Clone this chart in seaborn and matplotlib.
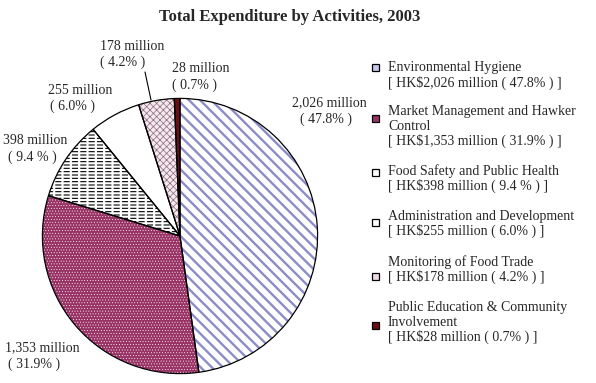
import matplotlib
matplotlib.use("Agg")
import matplotlib.pyplot as plt
import seaborn as sns

# ---- data ----
categories = [
    "Environmental Hygiene",
    "Market Management and Hawker\nControl",
    "Food Safety and Public Health",
    "Administration and Development",
    "Monitoring of Food Trade",
    "Public Education & Community\nInvolvement",
]
values = [2026, 1353, 398, 255, 178, 28]  # HK$ million
pct_labels = ["47.8%", "31.9%", "9.4 %", "6.0%", "4.2%", "0.7%"]
title = "Total Expenditure by Activities, 2003"

# ---- style ----
sns.set_theme(style="white")
plt.rcParams["font.family"] = ["Liberation Serif", "DejaVu Serif"]

face_colors = ["white", "#993366", "white", "white", "#f6e8ef", "#6b0f14"]
hatch_colors = ["#8c8cc8", "white", "black", "white", "#8a6a7a", "#6b0f14"]
hatches = ["\\\\\\", "......", "-----", "", "xxxxx", ""]
hatch_lw = [1.7, 0.3, 0.8, 1.0, 0.5, 1.0]
marker_faces = ["#c8c8e8", "#993366", "white", "white", "#f0d8e4", "#6b0f14"]

W, H = 596, 383
fig = plt.figure(figsize=(W / 100, H / 100), dpi=100)
fig.patch.set_facecolor("white")

cx, cy, r = 180, 236, 138
ax = fig.add_axes([(cx - r) / W, (H - cy - r) / H, 2 * r / W, 2 * r / H])
ax.axis("off")


def wedge_layer(idx, face, edge, hatch, lw):
    with plt.rc_context({"hatch.linewidth": lw}):
        wedges, _ = ax.pie(values, startangle=90, counterclock=False, radius=1,
                           colors=["none"] * len(values))
        for j, w in enumerate(wedges):
            if j != idx:
                w.remove()
            else:
                w.set_facecolor(face)
                w.set_edgecolor(edge)
                w.set_hatch(hatch)
                w.set_linewidth(0)


for i in range(len(values)):
    wedge_layer(i, face_colors[i], hatch_colors[i], hatches[i], hatch_lw[i])

# break food safety lines into dashes with a white vertical hatch
wedge_layer(2, "none", "white", "||", 1.6)

# outlines
ax.pie(values, startangle=90, counterclock=False, radius=1,
       wedgeprops=dict(facecolor="none", edgecolor="black", linewidth=0.9))
ax.set_xlim(-1.003, 1.003)
ax.set_ylim(-1.003, 1.003)
ax.set_aspect("equal")

# title
fig.text(290 / W, 1 - 17 / H, title, ha="center", va="center",
         fontsize=12, fontweight="bold")

# slice labels
FS = 10
label_pos = [(292, 103, 300), (5, 348, 8), (3, 141, 8), (48, 90, 50), (100, 46, 100), (172, 69, 172)]
for i, (x, y, x2) in enumerate(label_pos):
    fig.text(x / W, 1 - y / H, f"{values[i]:,} million", ha="left", va="center", fontsize=FS)
    fig.text(x2 / W, 1 - (y + 16) / H, f"( {pct_labels[i]} )", ha="left", va="center", fontsize=FS)

# leader line for 178 million
fig.add_artist(plt.Line2D([145 / W, 151 / W], [1 - 72 / H, 1 - 100 / H],
                          color="black", lw=0.8, transform=fig.transFigure))

# legend
leg_text_y = [68, 111, 171, 216, 262, 307]
leg_mark_y = [67, 118, 172, 222, 276, 325]
for i in range(len(values)):
    lines = categories[i].split("\n") + [f"[ HK${values[i]:,} million ( {pct_labels[i]} ) ]"]
    for k, ln in enumerate(lines):
        fig.text(388 / W, 1 - (leg_text_y[i] + 15 * k) / H, ln, ha="left", va="center",
                 fontsize=FS)
    s = 7
    rect = plt.Rectangle(((375 - s / 2) / W, 1 - (leg_mark_y[i] + s / 2) / H), s / W, s / H,
                         transform=fig.transFigure, facecolor=marker_faces[i],
                         edgecolor="black", linewidth=0.9)
    fig.add_artist(rect)

fig.savefig("out.png", dpi=100, facecolor="white")
